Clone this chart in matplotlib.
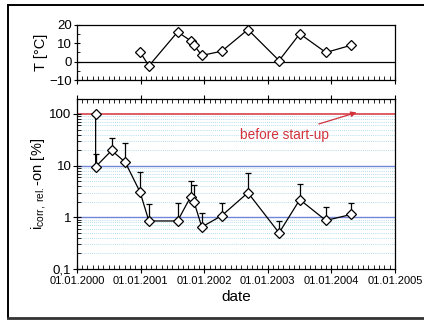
import matplotlib
matplotlib.use("Agg")
import matplotlib.pyplot as plt
import matplotlib.dates as mdates
from matplotlib.ticker import FixedLocator, FuncFormatter, MultipleLocator
from matplotlib.lines import Line2D
import numpy as np
from datetime import datetime

plt.rcParams['font.family'] = ['Liberation Sans', 'DejaVu Sans']
plt.rcParams['mathtext.fontset'] = 'custom'
plt.rcParams['mathtext.rm'] = 'Liberation Sans'
plt.rcParams['mathtext.it'] = 'Liberation Sans'

# ---- data ----
dates_i = ["2000-04-17", "2000-04-17", "2000-07-18", "2000-10-04", "2000-12-28",
           "2001-02-17", "2001-08-01", "2001-10-15", "2001-11-03", "2001-12-18",
           "2002-04-12", "2002-09-09", "2003-03-07", "2003-07-04", "2003-12-01",
           "2004-04-26"]
icorr = [100, 9.5, 19.7, 11.7, 3.1, 0.85, 0.85, 2.5, 2.0, 0.65, 1.08, 3.0, 0.5, 2.2, 0.87, 1.14]
icorr_upper = [100, 16.5, 35, 27, 7.7, 1.85, 1.9, 5.1, 4.2, 1.2, 1.9, 7.1, 0.85, 4.4, 1.55, 1.93]

dates_T = ["2000-12-28", "2001-02-17", "2001-08-01", "2001-10-15", "2001-11-03",
           "2001-12-18", "2002-04-12", "2002-09-09", "2003-03-07", "2003-07-04",
           "2003-12-01", "2004-04-26"]
temp = [5.3, -2.3, 16.2, 11.4, 9.1, 3.4, 5.7, 17.5, 0.6, 15.2, 5.0, 9.0]

year_ticks = ["01.01.2000", "01.01.2001", "01.01.2002", "01.01.2003", "01.01.2004", "01.01.2005"]

# ---- conversions ----
xi = [datetime.strptime(d, "%Y-%m-%d") for d in dates_i]
xT = [datetime.strptime(d, "%Y-%m-%d") for d in dates_T]
xticks = [datetime.strptime(s, "%d.%m.%Y") for s in year_ticks]
xlim = (xticks[0], xticks[-1])

fig = plt.figure(figsize=(4.24, 3.2), dpi=100)

# figure frame
fig.add_artist(Line2D([0.019, 0.019], [0.006, 0.984], transform=fig.transFigure, color='black', lw=1.4))
fig.add_artist(Line2D([0.019, 1.0], [0.984, 0.984], transform=fig.transFigure, color='black', lw=1.4))
fig.add_artist(Line2D([0.019, 1.0], [0.006, 0.006], transform=fig.transFigure, color='#333333', lw=2.0))

# ---- upper axes (temperature) ----
axT = fig.add_axes([0.1816, 0.75, 0.75, 0.172])
axT.plot(xT, temp, color='black', lw=0.9, marker='D', ms=5.5, mfc='white', mec='black', mew=0.9, zorder=3)
axT.axhline(0, color='black', lw=0.9)
axT.set_xlim(*xlim)
axT.set_ylim(-10, 20)
axT.set_yticks([-10, 0, 10, 20])
axT.yaxis.set_minor_locator(MultipleLocator(5))
axT.xaxis.set_major_locator(FixedLocator(mdates.date2num(xticks)))
axT.xaxis.set_minor_locator(mdates.MonthLocator())
axT.set_xticklabels([])
axT.tick_params(axis='x', which='major', direction='inout', length=6, width=0.8, bottom=True, top=False)
axT.tick_params(axis='x', which='minor', direction='in', length=3, width=0.6, bottom=True, top=False)
axT.tick_params(axis='y', which='major', direction='inout', length=5, width=0.8, labelsize=9.5, pad=1)
axT.tick_params(axis='y', which='minor', direction='in', length=2.5, width=0.6)
axT.set_ylabel("T [°C]", fontsize=10.5, labelpad=1)
for s in axT.spines.values():
    s.set_linewidth(0.9)

# ---- lower axes (icorr) ----
ax = fig.add_axes([0.1816, 0.1594, 0.75, 0.5312])
ax.set_yscale('log')
ax.set_xlim(*xlim)
ax.set_ylim(0.1, 195)

# grid lines
for dec in [0.1, 1, 10]:
    for m in range(2, 10):
        ax.axhline(dec * m, color='#9fd3e8', lw=0.6, ls=(0, (1, 1.5)), zorder=0)
ax.axhline(1, color='#7286d8', lw=1.0, zorder=1)
ax.axhline(10, color='#7286d8', lw=1.0, zorder=1)
ax.axhline(100, color='#d2323c', lw=1.1, zorder=1)

icorr_arr = np.array(icorr)
upper_err = np.array(icorr_upper) - icorr_arr
ax.errorbar(xi, icorr, yerr=[np.zeros_like(upper_err), upper_err], fmt='none',
            ecolor='black', elinewidth=0.9, capsize=2.5, capthick=0.9, zorder=2)
ax.plot(xi, icorr, color='black', lw=0.9, marker='D', ms=5.5, mfc='white', mec='black', mew=0.9, zorder=3)

ax.xaxis.set_major_locator(FixedLocator(mdates.date2num(xticks)))
ax.xaxis.set_major_formatter(FuncFormatter(lambda v, p: mdates.num2date(v).strftime("%d.%m.%Y")))
ax.xaxis.set_minor_locator(mdates.MonthLocator())
ax.tick_params(axis='x', which='major', direction='inout', length=6, width=0.8, top=True, labelsize=8, pad=2)
ax.tick_params(axis='x', which='minor', direction='in', length=3, width=0.6, top=True)
ax.yaxis.set_major_locator(FixedLocator([0.1, 1, 10, 100]))
ax.yaxis.set_major_formatter(FuncFormatter(lambda v, p: {0.1: "0,1", 1: "1", 10: "10", 100: "100"}.get(round(v, 3), "")))
ax.yaxis.set_minor_locator(FixedLocator([d * m for d in [0.1, 1, 10, 100] for m in range(2, 10)]))
ax.yaxis.set_minor_formatter(FuncFormatter(lambda v, p: ""))
ax.tick_params(axis='y', which='major', direction='inout', length=6, width=0.8, labelsize=9.5, pad=1)
ax.tick_params(axis='y', which='minor', direction='in', length=3, width=0.6)
ax.set_xlabel("date", fontsize=11, labelpad=3)
ax.set_ylabel(r"$\mathrm{i}_{\mathrm{corr,\ rel.}}$-on [%]", fontsize=10.5, labelpad=1)
for s in ax.spines.values():
    s.set_linewidth(0.9)

ax.annotate("before start-up", xy=(datetime(2004, 5, 25), 107),
            xytext=(datetime(2003, 4, 5), 40), color='#d2323c', fontsize=9.8,
            ha='center', va='center',
            arrowprops=dict(arrowstyle='-|>', color='#d2323c', lw=0.9, mutation_scale=8,
                            shrinkA=2, shrinkB=0))

fig.savefig("out.png", dpi=100)
